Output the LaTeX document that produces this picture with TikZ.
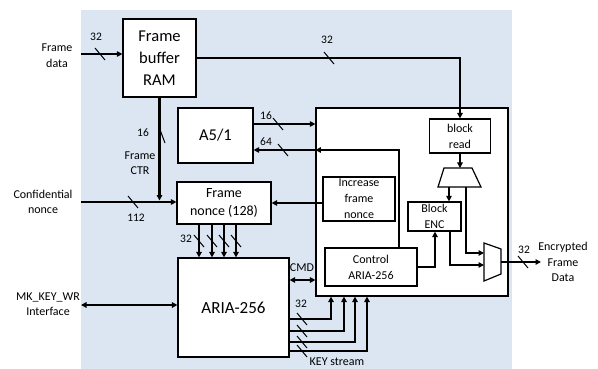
\documentclass[tikz,border=0pt]{standalone}
\usepackage{fontspec}
\setmainfont{Carlito}
\usetikzlibrary{arrows.meta,calc}
\definecolor{bgblue}{HTML}{DCE6F2}
\begin{document}
\begin{tikzpicture}[x=1pt,y=-1pt,
 box/.style={draw,line width=1.2pt,fill=white,inner sep=0pt,align=center},
 big/.style={font=\fontsize{16.5}{22}\selectfont},
 mid/.style={font=\fontsize{14}{18}\selectfont},
 sm/.style={font=\fontsize{12}{16}\selectfont},
 num/.style={font=\fontsize{11.5}{13}\selectfont,inner sep=0pt},
 lbl/.style={font=\fontsize{12}{15.5}\selectfont,align=center,inner sep=0pt},
 thk/.style={line width=2.4pt},
 med/.style={line width=1.8pt},
 thn/.style={line width=1.2pt},
 tip/.style={-{Triangle[length=5.5pt,width=5.5pt]}},
 dtip/.style={{Triangle[length=5.5pt,width=5.5pt]}-{Triangle[length=5.5pt,width=5.5pt]}},
 bus/.pic={\draw[line width=1pt] (-5,-6) -- (5,6);},
 vbus/.pic={\draw[line width=1pt] (-3,-8) -- (3,8);}
]
\useasboundingbox (0,0) rectangle (598,369);
\fill[bgblue] (81,10) rectangle (512,369);

% big controller box
\node[box,minimum width=192pt,minimum height=188pt] (ctrl) at (412,202) {};

% blocks
\node[box,big,minimum width=73pt,minimum height=78pt] (ram) at (159.5,58) {Frame\\buffer\\RAM};
\node[box,big,minimum width=75pt,minimum height=55pt] (a51) at (215.5,135.5) {A5/1};
\node[box,mid,minimum width=94pt,minimum height=42pt] (fn) at (224,203) {Frame\\nonce (128)};
\node[box,font=\fontsize{17}{20}\selectfont,minimum width=111pt,minimum height=99pt] (aria) at (233.5,307.5) {ARIA-256};
\node[box,sm,minimum width=61pt,minimum height=34pt] (br) at (460,136) {block\\read};
\node[box,sm,minimum width=53pt,minimum height=29pt] (enc) at (434.5,216.5) {Block\\ENC};
\node[box,sm,minimum width=72pt,minimum height=44pt] (ifn) at (359,199) {Increase\\frame\\nonce};
\node[box,sm,minimum width=92pt,minimum height=38pt] (cara) at (371,267) {Control\\ARIA-256};

% multiplexers
\draw[thn,fill=white] (444,168) coordinate (m1a) -- (472,168) coordinate (m1b) -- (481,187) coordinate (m1c) -- (438,187) coordinate (m1d) -- cycle;
\draw[thn,fill=white] (484,243) coordinate (m2a) -- (501,249) coordinate (m2b) -- (501,274) coordinate (m2c) -- (484,281) coordinate (m2d) -- cycle;
\coordinate (m1o1) at (449,187);
\coordinate (m1o2) at (466,187);
\coordinate (m2i1) at (484,253);
\coordinate (m2i2) at (484,265);
\coordinate (m2o) at (501,262);

% Frame data
\coordinate (fdin) at (81,54);
\draw[thn,tip] (fdin) -- (fdin -| ram.west);
\pic at (100,54) {bus};
\node[num] (n32a) at (96,37) {32};
\node[lbl] (tfd) at (57,55.5) {Frame\\data};

% RAM -> block read
\draw[thk,tip] (ram.east) -| (br.north);
\pic at (329,58) {bus};
\node[num] (n32b) at (327,40) {32};

% RAM -> frame CTR
\draw[thk,tip] (ram.south) -- (ram.south |- 0,200.5);
\pic at (162,135) {vbus};
\node[num] (n16a) at (143,133) {16};
\node[lbl] (tctr) at (140,163) {Frame\\CTR};

% Confidential nonce
\coordinate (cnin) at (81,202);
\draw[thk,tip] (cnin) -- (cnin -| fn.west);
\pic at (133,202) {bus};
\node[num] (n112) at (136,218) {112};
\node[lbl] (tcn) at (43,202) {Confidential\\nonce};

% A5/1 links
\draw[thn,tip] (a51.east |- 0,124) -- (ctrl.west |- 0,124);
\pic at (278,124) {bus};
\node[num] (n16b) at (266,116) {16};
\draw[thn,tip] (cara.north -| 399,0) |- (ctrl.west |- 0,150);
\draw[thn,tip] (ctrl.west |- 0,150) -- (a51.east |- 0,150);
\pic at (283,150) {bus};
\node[num] (n64) at (266,142) {64};

% Increase frame nonce -> Frame nonce
\draw[med,tip] (ifn.west |- fn.east) -- (fn.east);

% Frame nonce -> ARIA
\foreach \xx in {199,212,224,236}{
  \draw[med,tip] (fn.south -| \xx,0) -- (aria.north -| \xx,0);
  \pic at (\xx,241) {bus};
}
\node[num] (n32c) at (186,239) {32};

% MK_KEY_WR
\coordinate (mkin) at (81,305);
\draw[thk,dtip] (mkin) -- (mkin -| aria.west);
\node[lbl] (tmk) at (48,304) {MK\_KEY\_WR\\Interface};

% CMD
\draw[med,dtip] (aria.east |- 0,280) -- (ctrl.west |- 0,280);
\node[lbl] (tcmd) at (302,268) {CMD};

% KEY stream
\foreach \yy/\xx in {319/331,331/344,342/355,351/367}{
  \draw[med,tip] (aria.east |- 0,\yy) -| (ctrl.south -| \xx,0);
  \pic at (302,\yy) {bus};
}
\node[num] (n32d) at (301,304) {32};
\node[lbl] (tks) at (337,362) {KEY stream};

% inside controller
\draw[thn,tip] (br.south) -- (br.south |- m1a);
\draw[thn,tip] (m1o1) -- (m1o1 |- enc.north);
\draw[thn,tip] (m1o2) |- (m2i1);
\draw[thn,tip] (enc.south -| 450,0) |- (m2i2);
\draw[med,tip] (cara.east) -| (enc.south -| 435,0);

% output
\coordinate (outend) at (541,262);
\draw[thn,tip] (m2o) -- (outend);
\pic at (523,262) {bus};
\node[num] (n32e) at (524,250) {32};
\node[lbl] (tenc) at (563,262) {Encrypted\\Frame\\Data};
\end{tikzpicture}
\end{document}
